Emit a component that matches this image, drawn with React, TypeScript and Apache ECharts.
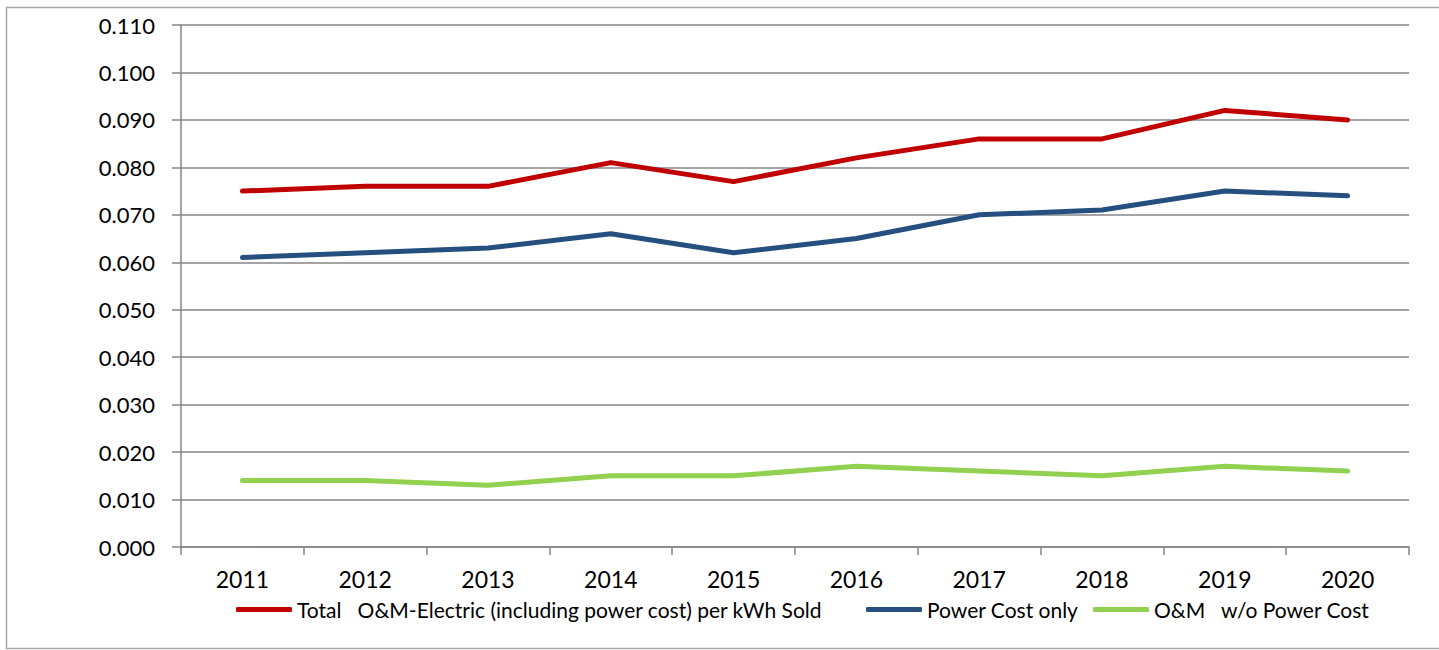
import React, { useEffect, useRef } from "react";
import * as echarts from "echarts";

const years = ["2011", "2012", "2013", "2014", "2015", "2016", "2017", "2018", "2019", "2020"];
const totalOM = [0.075, 0.076, 0.076, 0.081, 0.077, 0.082, 0.086, 0.086, 0.092, 0.090];
const powerCost = [0.061, 0.062, 0.063, 0.066, 0.062, 0.065, 0.070, 0.071, 0.075, 0.074];
const omNoPower = [0.014, 0.014, 0.013, 0.015, 0.015, 0.017, 0.016, 0.015, 0.017, 0.016];
const seriesNames = [
  "Total   O&M-Electric (including power cost) per kWh Sold",
  "Power Cost only",
  "O&M   w/o Power Cost",
];
const colors = ["#C00000", "#254F7F", "#92D050"];

const FONT = "Lato";

export default function App() {
  const ref = useRef<HTMLDivElement>(null);
  useEffect(() => {
    if (!ref.current) return;
    const chart = echarts.init(ref.current, undefined, { renderer: "svg" });
    const values = [totalOM, powerCost, omNoPower];
    const legendLefts = [236, 866, 1093];
    chart.setOption({
      animation: false,
      backgroundColor: "#ffffff",
      textStyle: { fontFamily: FONT },
      graphic: [
        {
          type: "rect",
          shape: { x: 6.5, y: 7.5, width: 1440, height: 641 },
          style: { fill: "none", stroke: "#A6A6A6", lineWidth: 1.5 },
          silent: true,
        },
      ],
      grid: { left: 181, right: 30, top: 25, bottom: 103, containLabel: false },
      legend: seriesNames.map((n, i) => ({
        data: [n],
        left: legendLefts[i],
        top: 599,
        icon: "roundRect",
        itemWidth: 56,
        itemHeight: 5,
        itemGap: 0,
        textStyle: { fontFamily: FONT, fontSize: 21, color: "#000" },
        padding: 0,
      })),
      xAxis: {
        type: "category",
        data: years,
        boundaryGap: true,
        axisLine: { show: true, lineStyle: { color: "#868686", width: 1.5 } },
        axisTick: { show: true, length: 8, alignWithLabel: false, lineStyle: { color: "#868686", width: 1.5 } },
        axisLabel: { fontFamily: FONT, fontSize: 23, color: "#000", margin: 20 },
        splitLine: { show: false },
      },
      yAxis: {
        type: "value",
        min: 0,
        max: 0.11,
        interval: 0.01,
        axisLine: { show: true, lineStyle: { color: "#868686", width: 1.5 } },
        axisTick: { show: true, length: 9, lineStyle: { color: "#868686", width: 1.5 } },
        axisLabel: {
          fontFamily: FONT,
          fontSize: 22,
          color: "#000",
          margin: 26,
          formatter: (v: number) => v.toFixed(3),
        },
        splitLine: { show: true, lineStyle: { color: "#868686", width: 1.5 } },
      },
      series: seriesNames.map((n, i) => ({
        name: n,
        type: "line",
        data: values[i],
        symbol: "none",
        showSymbol: false,
        itemStyle: { color: colors[i] },
        lineStyle: { color: colors[i], width: 5, cap: "round", join: "round" },
      })),
    });
    return () => chart.dispose();
  }, []);
  return (
    <div
      ref={ref}
      style={{ position: "fixed", left: 0, top: 0, width: 1439, height: 650, background: "#fff" }}
    />
  );
}
